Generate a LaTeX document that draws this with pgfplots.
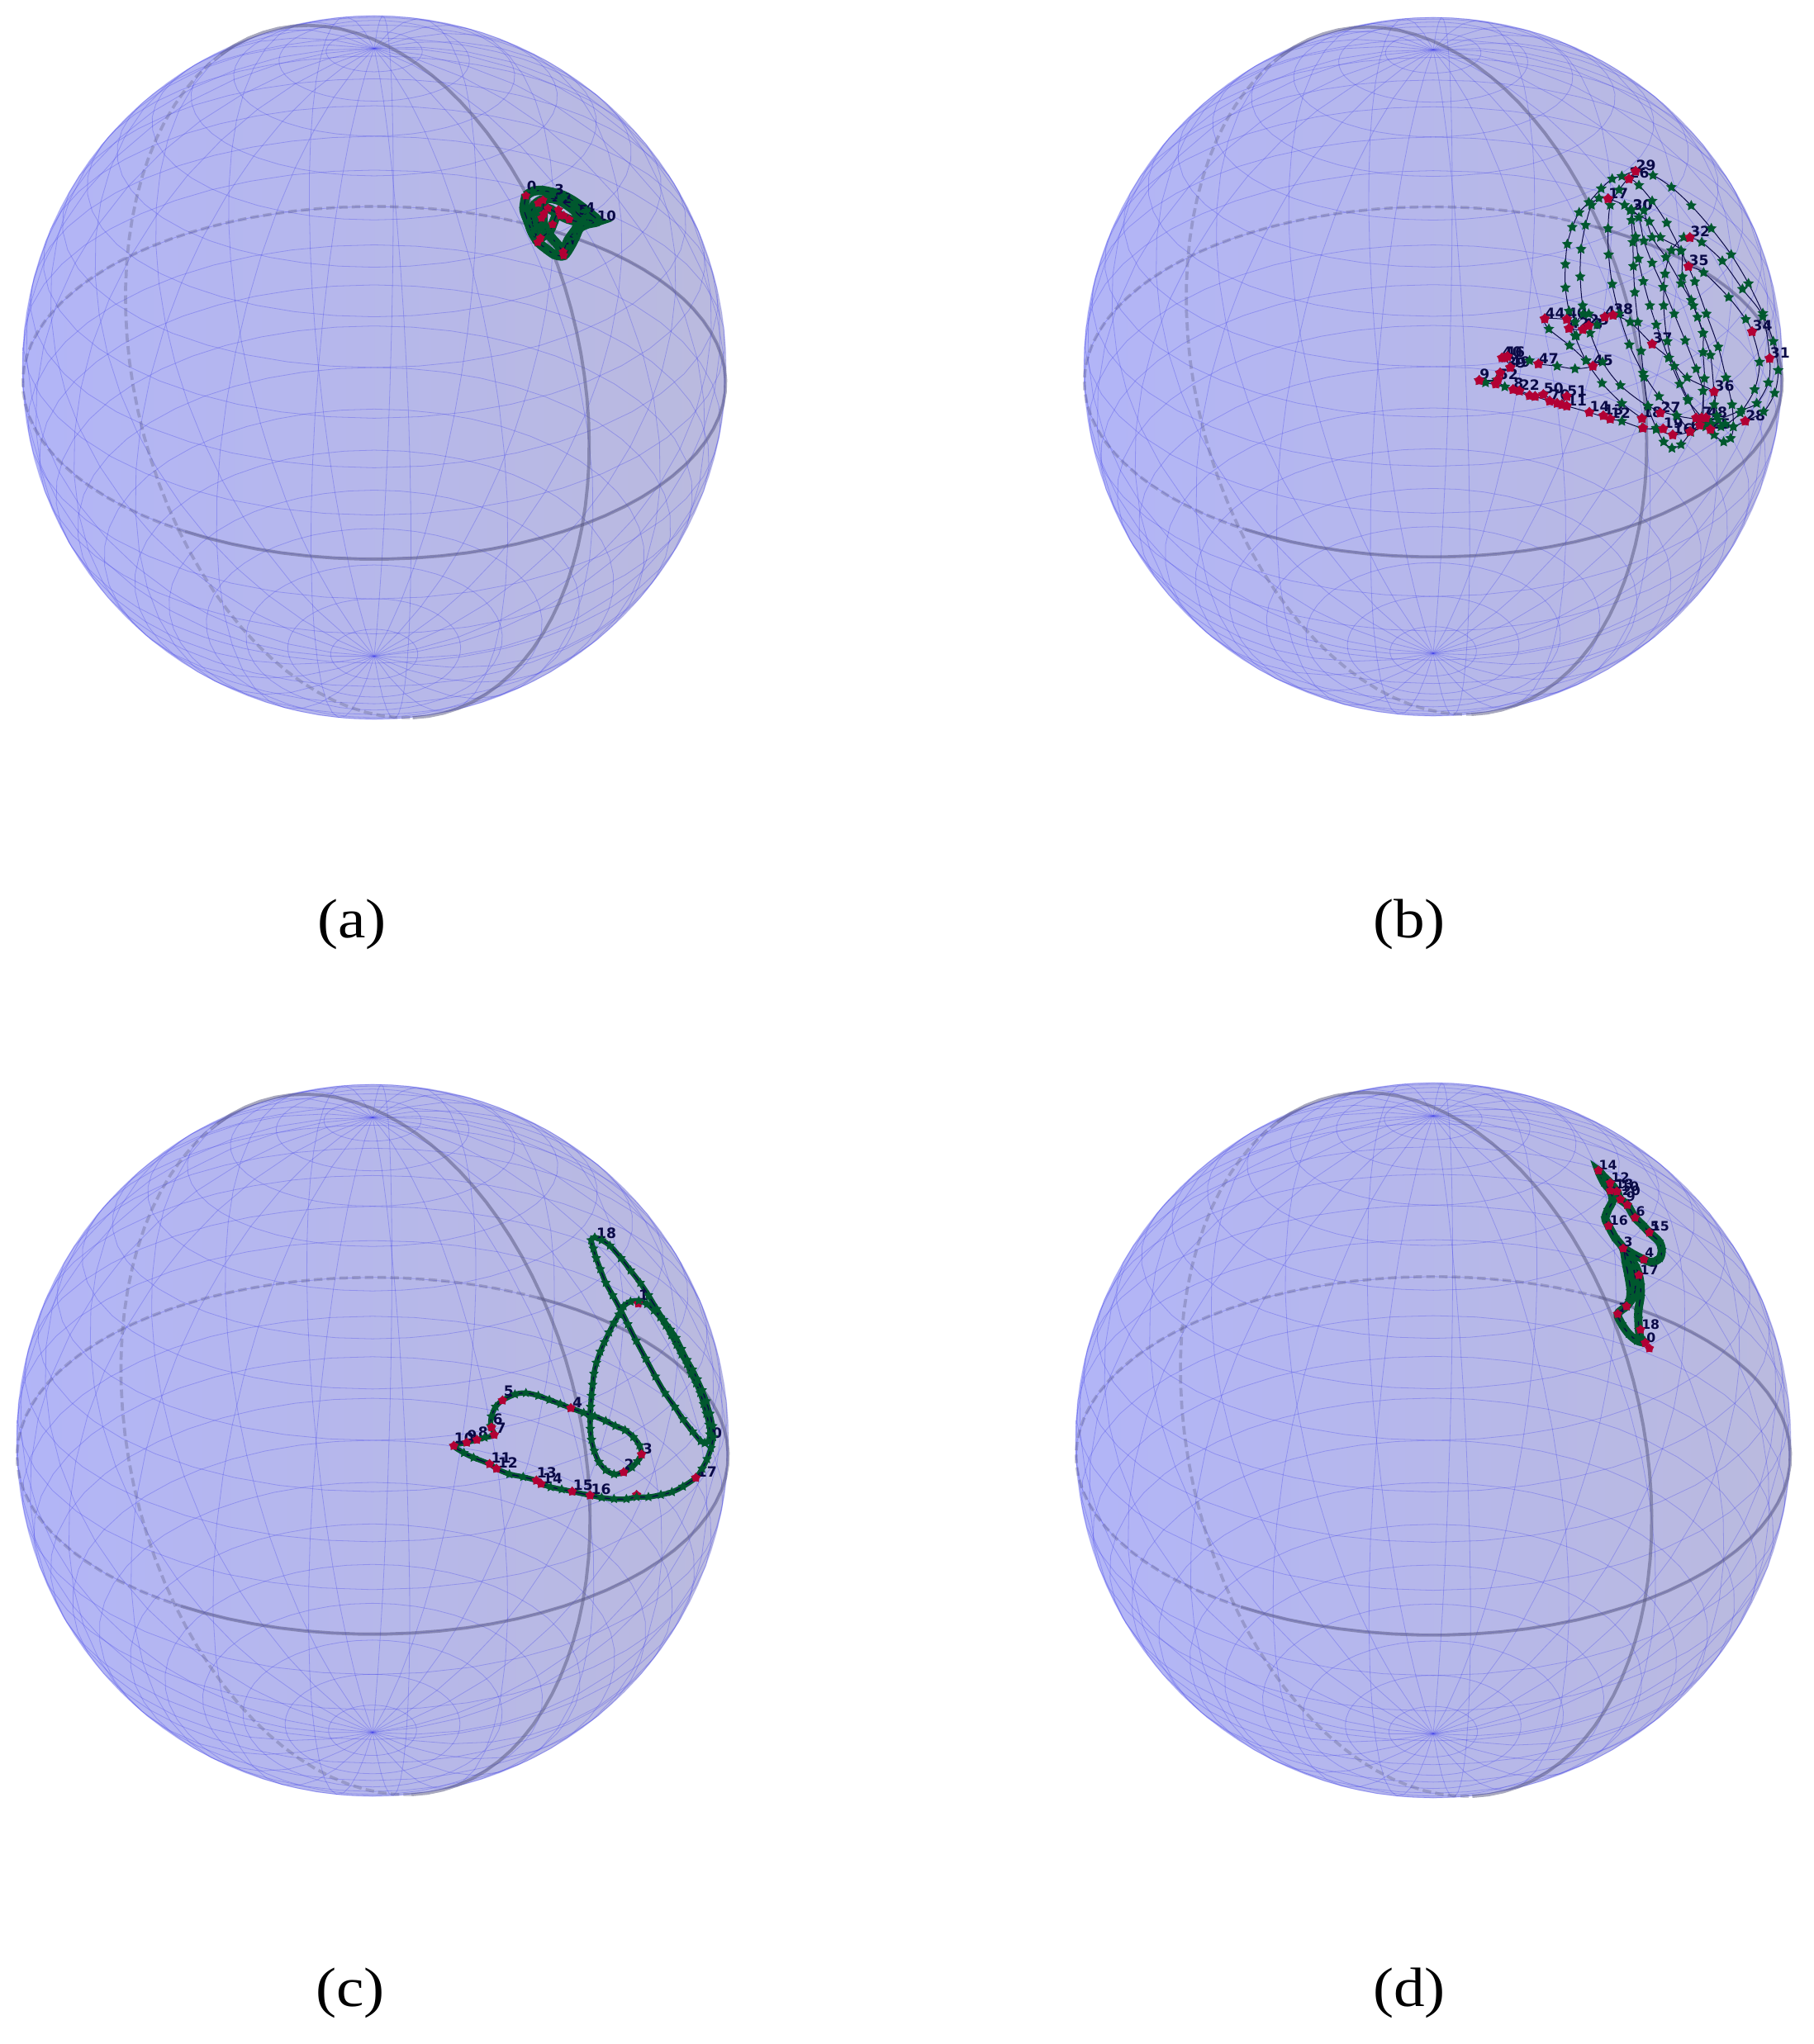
\documentclass[border=0pt]{standalone}
\usepackage{pgfplots}
\usepackage{pgfplotstable}
\usepackage{fontspec}
\pgfplotsset{compat=1.18}
\setmainfont{Liberation Serif}
\newfontfamily\capf{Liberation Serif}[FakeStretch=1.12]
\newfontfamily\dvb{DejaVu Sans}[BoldFont={DejaVu Sans Bold}]
\newcommand\lA{\dvb\bfseries\fontsize{5.8}{7}\selectfont}
\newcommand\lB{\dvb\bfseries\fontsize{6.0}{7}\selectfont}
\newcommand\lC{\dvb\bfseries\fontsize{6.0}{7}\selectfont}
\newcommand\lD{\dvb\bfseries\fontsize{5.5}{6}\selectfont}
\definecolor{surfL}{RGB}{178,181,247}
\definecolor{surfR}{RGB}{186,186,222}
\definecolor{wirec}{RGB}{70,70,235}
\definecolor{sgreen}{RGB}{0,88,46}
\definecolor{sred}{RGB}{178,0,52}
\definecolor{navy}{RGB}{10,10,70}
\definecolor{framec}{RGB}{90,90,130}
\pgfdeclareplotmark{fstar}{%
 \pgfpathmoveto{\pgfpointpolar{90}{\pgfplotmarksize}}%
 \pgfpathlineto{\pgfpointpolar{126}{.5\pgfplotmarksize}}%
 \pgfpathlineto{\pgfpointpolar{162}{\pgfplotmarksize}}%
 \pgfpathlineto{\pgfpointpolar{198}{.5\pgfplotmarksize}}%
 \pgfpathlineto{\pgfpointpolar{234}{\pgfplotmarksize}}%
 \pgfpathlineto{\pgfpointpolar{270}{.5\pgfplotmarksize}}%
 \pgfpathlineto{\pgfpointpolar{306}{\pgfplotmarksize}}%
 \pgfpathlineto{\pgfpointpolar{342}{.5\pgfplotmarksize}}%
 \pgfpathlineto{\pgfpointpolar{18}{\pgfplotmarksize}}%
 \pgfpathlineto{\pgfpointpolar{54}{.5\pgfplotmarksize}}%
 \pgfpathclose\pgfusepathqfill}
\pgfdeclareplotmark{rstar}{%
 \pgfpathmoveto{\pgfpointpolar{90}{\pgfplotmarksize}}%
 \pgfpathlineto{\pgfpointpolar{126}{.7\pgfplotmarksize}}%
 \pgfpathlineto{\pgfpointpolar{162}{\pgfplotmarksize}}%
 \pgfpathlineto{\pgfpointpolar{198}{.7\pgfplotmarksize}}%
 \pgfpathlineto{\pgfpointpolar{234}{\pgfplotmarksize}}%
 \pgfpathlineto{\pgfpointpolar{270}{.7\pgfplotmarksize}}%
 \pgfpathlineto{\pgfpointpolar{306}{\pgfplotmarksize}}%
 \pgfpathlineto{\pgfpointpolar{342}{.7\pgfplotmarksize}}%
 \pgfpathlineto{\pgfpointpolar{18}{\pgfplotmarksize}}%
 \pgfpathlineto{\pgfpointpolar{54}{.7\pgfplotmarksize}}%
 \pgfpathclose\pgfusepathqfill}
\pgfplotsset{
 wire/.style={no marks,draw=wirec,line width=.28pt,opacity=.33},
 gsolid/.style={no marks,draw=framec,line width=1.35pt,opacity=.52},
 gdash/.style={no marks,draw=framec,line width=1.3pt,opacity=.32,dash pattern=on 3.6pt off 1.8pt},
 bstar/.style={only marks,mark=fstar,mark size=2.4pt,mark options={fill=sgreen}},
 dstar/.style={draw=sgreen,line width=#1,smooth,mark=fstar,mark size=2.2pt,mark options={fill=sgreen}},
 nline/.style={no marks,smooth,draw=navy,line width=#1},
 rmark/.style={only marks,mark=rstar,mark size=#1,mark options={fill=sred}},
}
\newcommand\tplot[4]{\addplot[#1] table[x expr=\thisrowno{0}/3+#3,y expr=\thisrowno{1}/3+#4]{#2};}
\newcommand\lplot[4]{\addplot[only marks,mark=none,point meta=explicit symbolic,nodes near coords={\pgfplotspointmeta},every node near coord/.style={anchor=south west,inner sep=0pt,font=#1,text=navy}] table[x expr=\thisrowno{0}/3+#3,y expr=\thisrowno{1}/3+#4,meta index=2]{#2};}
\newcommand\sphere[3]{%
 \addplot[draw=wirec,draw opacity=.18,line width=.4pt,left color=surfL,right color=surfR,domain=0:360,samples=121,no marks] ({#1+#3*cos(x)},{#2+#3*sin(x)});
 \pgfplotsinvokeforeach{-84.5,-69.5,-54.5,-39.5,-24.5,-9.5,5.5,20.5,35.5,50.5,65.5,80.5,95.5,101.6,116.6,131.6,146.6,161.6,176.6,191.6,206.6,221.6,236.6,251.6,266.6}{%
  \addplot[wire,domain=-90:90,samples=25,variable=\lat] ({#1+#3*sx(\lat,##1)},{#2+#3*sy(\lat,##1)});}
 \pgfplotsinvokeforeach{-82.5,-75,-67.5,-60,-52.5,-45,-37.5,-30,-22.5,-15,-7.5,0,7.5,15,22.5,30,37.5,45,52.5,60,67.5,75,82.5}{%
  \addplot[wire,domain=0:360,samples=49,variable=\lon] ({#1+#3*sx(##1,\lon)},{#2+#3*sy(##1,\lon)});}
 \addplot[gsolid,domain=-30:150,samples=46,variable=\lon] ({#1+#3*sx(0,\lon)},{#2+#3*sy(0,\lon)});
 \addplot[gdash,domain=150:330,samples=46,variable=\lon] ({#1+#3*sx(0,\lon)},{#2+#3*sy(0,\lon)});
 \addplot[gsolid,domain=-183:28,samples=54,variable=\lon] ({#1+#3*cu(\lon)*9.95/(10-cw(\lon))},{#2-#3*cv(\lon)*9.95/(10-cw(\lon))});
 \addplot[gdash,domain=28:177,samples=40,variable=\lon] ({#1+#3*cu(\lon)*9.95/(10-cw(\lon))},{#2-#3*cv(\lon)*9.95/(10-cw(\lon))});
}
% ---------- panel (a), crop origin (600,190) ----------
\pgfplotstableread[row sep=crcr,header=false]{
110 141\\135 125\\170 122\\210 130\\250 142\\290 165\\330 195\\372 232\\335 243\\305 258\\290 290\\272 325\\248 358\\215 355\\185 335\\155 310\\133 275\\118 235\\103 190\\110 141\\
}\Aa
\pgfplotstableread[row sep=crcr,header=false]{
155 168\\190 150\\235 160\\280 190\\320 225\\367 235\\320 240\\267 227\\235 213\\190 187\\160 205\\167 222\\150 250\\150 300\\163 295\\195 270\\207 245\\228 192\\
}\Ab
\pgfplotstableread[row sep=crcr,header=false]{
245 345\\222 315\\200 290\\175 250\\172 207\\172 157\\140 175\\128 210\\140 265\\153 310\\
}\Ac
\pgfplotstableread[row sep=crcr,header=false]{
245 345\\265 300\\290 265\\300 245\\
}\Ad
\pgfplotstableread[row sep=crcr,header=false]{
110 141\\155 168\\172 157\\190 187\\228 192\\175 207\\167 222\\235 213\\247 213\\267 227\\207 245\\163 295\\153 310\\245 345\\247 358\\
}\Ar
\pgfplotstableread[row sep=crcr,header=false]{
112 128 0\\212 138 3\\325 205 4\\367 235 10\\250 328 6\\200 165 1\\240 170 2\\300 215 5\\
}\Al
% ---------- panel (b), crop origin (1760,180) ----------
\pgfplotstableread[row sep=crcr,header=false]{
683 980\\610 925\\538 852\\480 770\\440 680\\418 590\\405 505\\405 420\\412 347\\430 285\\455 232\\490 195\\535 145\\575 110\\610 100\\660 82\\723 97\\790 140\\862 207\\935 290\\1007 385\\1070 490\\1122 598\\1160 700\\1178 805\\1165 888\\1125 955\\1058 990\\1015 1010\\970 1010\\930 1005\\
}\Ba
\pgfplotstableread[row sep=crcr,header=false]{
900 985\\808 970\\705 935\\605 860\\540 775\\495 670\\468 570\\459 465\\462 365\\478 278\\500 205\\527 180\\560 182\\620 205\\640 225\\710 265\\750 322\\825 370\\830 465\\862 550\\885 612\\905 670\\905 740\\910 835\\900 980\\
}\Bb
\pgfplotstableread[row sep=crcr,header=false]{
860 1030\\810 970\\745 900\\687 815\\637 712\\600 600\\575 492\\562 385\\560 290\\568 205\\600 150\\636 110\\672 133\\720 190\\773 270\\825 372\\875 483\\917 600\\960 720\\988 832\\1010 930\\1015 1010\\1005 1052\\980 1065\\945 1040\\915 1010\\
}\Bc
\pgfplotstableread[row sep=crcr,header=false]{
645 222\\645 260\\650 340\\652 427\\657 522\\668 630\\680 735\\690 830\\705 935\\735 1015\\762 1065\\792 1088\\825 1075\\860 1030\\
}\Bd
\pgfplotstableread[row sep=crcr,header=false]{
645 222\\672 250\\690 335\\720 415\\760 503\\800 600\\840 697\\880 800\\905 880\\905 985\\
}\Be
\pgfplotstableread[row sep=crcr,header=false]{
645 222\\660 320\\670 400\\688 482\\712 570\\735 640\\780 760\\820 855\\850 915\\900 975\\
}\Bf
\pgfplotstableread[row sep=crcr,header=false]{
690 225\\720 322\\770 395\\825 490\\870 570\\905 670\\932 750\\945 883\\955 970\\
}\Bg
\pgfplotstableread[row sep=crcr,header=false]{
890 985\\850 910\\800 790\\775 700\\762 570\\767 455\\790 370\\835 322\\857 323\\900 340\\975 408\\1048 510\\1122 610\\1147 762\\1142 850\\1100 925\\1045 950\\960 985\\
}\Bh
\pgfplotstableread[row sep=crcr,header=false]{
852 428\\907 450\\998 540\\1060 620\\1083 665\\1110 775\\1092 875\\1040 960\\985 1000\\920 985\\
}\Bi
\pgfplotstableread[row sep=crcr,header=false]{
578 605\\640 630\\720 710\\780 760\\847 832\\945 883\\945 930\\935 1000\\
}\Bj
\pgfplotstableread[row sep=crcr,header=false]{
410 620\\330 618\\345 655\\420 715\\480 770\\505 790\\440 800\\375 790\\307 782\\275 770\\195 755\\185 760\\205 795\\168 815\\155 840\\92 842\\115 850\\185 865\\238 880\\295 900\\348 917\\410 935\\492 958\\568 982\\610 990\\683 1015\\735 1020\\795 1040\\858 1028\\893 1005\\932 1020\\
}\Bk
\pgfplotstableread[row sep=crcr,header=false]{
410 620\\440 630\\470 600\\490 600\\520 640\\490 643\\445 680\\418 653\\468 657\\548 612\\578 605\\
}\Bl
\pgfplotstableread[row sep=crcr,header=false]{
92 842\\155 850\\215 875\\275 897\\325 893\\375 925\\410 900\\392 930\\
}\Bm
\pgfplotstableread[row sep=crcr,header=false]{
660 82\\636 110\\560 182\\857 323\\852 428\\1083 665\\1147 762\\945 883\\720 710\\505 790\\307 782\\330 618\\410 620\\418 653\\468 657\\490 643\\548 612\\578 605\\185 760\\175 760\\195 755\\205 795\\92 842\\168 815\\160 840\\152 855\\215 875\\238 880\\275 897\\295 900\\325 893\\348 917\\410 900\\375 925\\392 930\\410 935\\492 958\\543 970\\568 982\\683 980\\687 1015\\750 960\\760 1018\\795 1040\\858 1028\\880 978\\900 978\\915 978\\893 1005\\932 1020\\1058 990\\
}\Br
\pgfplotstableread[row sep=crcr,header=false]{
660 82 29\\636 110 26\\560 182 17\\648 225 20\\648 225 30\\857 323 32\\852 428 35\\1083 665 34\\1147 762 31\\945 883 36\\720 710 37\\505 790 45\\307 782 47\\330 618 44\\410 620 40\\418 653 42\\468 657 43\\490 643 23\\548 612 41\\578 605 38\\185 760 46\\175 760 40\\205 795 49\\190 800 39\\92 842 9\\160 840 52\\215 875 8\\238 880 22\\325 893 50\\348 917 70\\410 900 51\\410 935 11\\492 958 14\\543 970 13\\568 982 12\\683 980 18\\750 960 27\\760 1018 19\\795 1040 16\\858 1028 6\\900 978 7\\920 978 48\\932 1020 25\\1058 990 28\\
}\Bn
% ---------- panel (c), crop origin (520,1470) ----------
\pgfplotstableread[row sep=crcr,header=false]{
1000 832\\1012 826\\1018 800\\1015 765\\1005 725\\995 690\\983 650\\968 615\\950 580\\935 545\\915 510\\897 475\\878 440\\858 405\\838 375\\815 350\\790 327\\760 315\\730 318\\705 335\\688 365\\670 395\\652 430\\635 465\\620 500\\606 540\\597 580\\592 620\\588 660\\585 700\\583 740\\584 780\\588 820\\598 860\\615 900\\640 930\\670 945\\705 938\\735 920\\755 898\\770 873\\762 840\\740 810\\710 785\\675 770\\640 752\\600 735\\560 722\\513 705\\475 690\\435 675\\395 660\\350 650\\310 655\\265 677\\240 700\\225 735\\222 770\\235 802\\200 812\\172 820\\135 830\\88 842\\125 868\\160 885\\218 908\\243 925\\290 945\\340 955\\388 968\\405 980\\440 992\\480 1000\\518 1008\\583 1022\\625 1030\\670 1035\\715 1035\\752 1028\\795 1028\\840 1020\\880 1010\\920 990\\967 958\\990 925\\1008 890\\1022 850\\1030 810\\1028 770\\1018 725\\1005 680\\990 640\\972 600\\955 565\\935 530\\915 490\\895 450\\875 420\\850 385\\825 345\\795 295\\765 250\\730 205\\695 160\\655 115\\625 95\\600 85\\587 95\\595 125\\605 160\\620 200\\640 250\\665 295\\695 350\\720 400\\750 460\\785 525\\820 590\\855 650\\890 700\\920 745\\955 790\\985 825\\1000 832\\
}\Ca
\pgfplotstableread[row sep=crcr,header=false]{
705 938\\770 873\\513 705\\265 677\\225 775\\235 802\\172 820\\135 830\\88 842\\218 908\\243 925\\388 968\\405 980\\518 1008\\583 1022\\967 958\\
}\Cr
\pgfplotstableread[row sep=crcr,header=false]{
758 325\\752 1020\\
}\Ch
\pgfplotstableread[row sep=crcr,header=false]{
758 315 1\\705 930 2\\772 873 3\\518 705 4\\268 665 5\\228 765 6\\240 797 7\\175 815 8\\135 825 9\\88 835 10\\222 905 11\\247 925 12\\388 960 13\\410 980 14\\520 1005 15\\585 1020 16\\970 958 17\\605 92 18\\1025 818 0\\
}\Cl
% ---------- panel (d), crop origin (1900,1390) ----------
\pgfplotstableread[row sep=crcr,header=false]{
275 708\\258 690\\252 660\\250 620\\250 590\\258 540\\258 500\\252 462\\240 430\\220 400\\195 365\\230 385\\270 405\\300 415\\328 400\\335 370\\325 340\\290 307\\265 280\\238 253\\210 207\\185 187\\172 158\\148 127\\125 105\\105 82\\125 125\\148 155\\157 190\\140 225\\130 255\\142 283\\165 325\\195 365\\205 420\\215 470\\222 520\\218 555\\207 575\\175 603\\190 640\\215 675\\245 700\\275 708\\
}\Da
\pgfplotstableread[row sep=crcr,header=false]{
207 575\\232 540\\240 490\\230 430\\195 365\\
}\Db
\pgfplotstableread[row sep=crcr,header=false]{
105 82\\148 127\\148 155\\172 158\\185 187\\210 207\\238 253\\290 307\\270 405\\195 365\\142 283\\252 462\\258 660\\275 708\\175 603\\207 575\\290 728\\
}\Dr
\pgfplotstableread[row sep=crcr,header=false]{
105 82 14\\150 127 12\\165 150 13\\185 160 10\\190 175 20\\205 195 9\\240 250 6\\292 305 5\\295 305 15\\272 400 4\\195 360 3\\145 283 16\\255 462 17\\260 660 18\\278 708 0\\178 600 7\\
}\Dl
\begin{document}
\begin{tikzpicture}
\useasboundingbox (0,0) rectangle (768.25pt,866.25pt);
\begin{axis}[at={(0,0)},anchor=south west,scale only axis,width=768.25pt,height=866.25pt,
 hide axis,xmin=0,xmax=2195,ymin=0,ymax=2475,y dir=reverse,clip=false,
 declare function={
  pu(\lat,\lon)=cos(\lat)*sin(\lon);
  pv(\lat,\lon)=sin(\lat)*0.866-cos(\lat)*cos(\lon)*0.5;
  pw(\lat,\lon)=sin(\lat)*0.5+cos(\lat)*cos(\lon)*0.866;
  sx(\lat,\lon)=pu(\lat,\lon)*9.95/(10-pw(\lat,\lon));
  sy(\lat,\lon)=-pv(\lat,\lon)*9.95/(10-pw(\lat,\lon));
  cu(\lon)=cos(\lon)*(-0.142)+sin(\lon)*(-0.643);
  cv(\lon)=cos(\lon)*0.986;
  cw(\lon)=cos(\lon)*(-0.118)+sin(\lon)*0.7705;
 }]
\sphere{453}{445}{426}
\sphere{1735}{444}{423}
\sphere{451}{1744}{431}
\sphere{1735}{1744}{433}
% (a)
\lplot{\lA}{\Al}{600}{190}
\tplot{dstar=4pt}{\Aa}{600}{190}
\tplot{dstar=4pt}{\Ab}{600}{190}
\tplot{dstar=4pt}{\Ac}{600}{190}
\tplot{dstar=4pt}{\Ad}{600}{190}
\tplot{nline=.4pt}{\Aa}{600}{190}
\tplot{nline=.4pt}{\Ab}{600}{190}
\tplot{nline=.4pt}{\Ac}{600}{190}
\tplot{nline=.4pt}{\Ad}{600}{190}
\tplot{rmark=2pt}{\Ar}{600}{190}
% (b)
\lplot{\lB}{\Bn}{1760}{180}
\tplot{bstar}{\Ba}{1760}{180}
\tplot{bstar}{\Bb}{1760}{180}
\tplot{bstar}{\Bc}{1760}{180}
\tplot{bstar}{\Bd}{1760}{180}
\tplot{bstar}{\Be}{1760}{180}
\tplot{bstar}{\Bf}{1760}{180}
\tplot{bstar}{\Bg}{1760}{180}
\tplot{bstar}{\Bh}{1760}{180}
\tplot{bstar}{\Bi}{1760}{180}
\tplot{bstar}{\Bj}{1760}{180}
\tplot{bstar}{\Bk}{1760}{180}
\tplot{bstar}{\Bl}{1760}{180}
\tplot{bstar}{\Bm}{1760}{180}
\tplot{nline=.35pt}{\Ba}{1760}{180}
\tplot{nline=.35pt}{\Bb}{1760}{180}
\tplot{nline=.35pt}{\Bc}{1760}{180}
\tplot{nline=.35pt}{\Bd}{1760}{180}
\tplot{nline=.35pt}{\Be}{1760}{180}
\tplot{nline=.35pt}{\Bf}{1760}{180}
\tplot{nline=.35pt}{\Bg}{1760}{180}
\tplot{nline=.35pt}{\Bh}{1760}{180}
\tplot{nline=.35pt}{\Bi}{1760}{180}
\tplot{nline=.35pt}{\Bj}{1760}{180}
\tplot{nline=.35pt}{\Bk}{1760}{180}
\tplot{nline=.35pt}{\Bl}{1760}{180}
\tplot{nline=.35pt}{\Bm}{1760}{180}
\tplot{rmark=2.3pt}{\Br}{1760}{180}
% (c)
\lplot{\lC}{\Cl}{520}{1470}
\tplot{rmark=2.1pt}{\Ch}{520}{1470}
\tplot{dstar=2.2pt}{\Ca}{520}{1470}
\tplot{nline=.45pt}{\Ca}{520}{1470}
\tplot{rmark=2.1pt}{\Cr}{520}{1470}
% (d)
\lplot{\lD}{\Dl}{1900}{1390}
\tplot{dstar=3.5pt}{\Da}{1900}{1390}
\tplot{dstar=3.5pt}{\Db}{1900}{1390}
\tplot{nline=.45pt}{\Da}{1900}{1390}
\tplot{nline=.45pt}{\Db}{1900}{1390}
\tplot{rmark=2.1pt}{\Dr}{1900}{1390}
\node[font=\capf\fontsize{23.5}{26}\selectfont] at (axis cs:426,1119) {(a)};
\node[font=\capf\fontsize{23.5}{26}\selectfont] at (axis cs:1706,1119) {(b)};
\node[font=\capf\fontsize{23.5}{26}\selectfont] at (axis cs:424,2413) {(c)};
\node[font=\capf\fontsize{23.5}{26}\selectfont] at (axis cs:1706,2413) {(d)};
\end{axis}
\end{tikzpicture}
\end{document}
